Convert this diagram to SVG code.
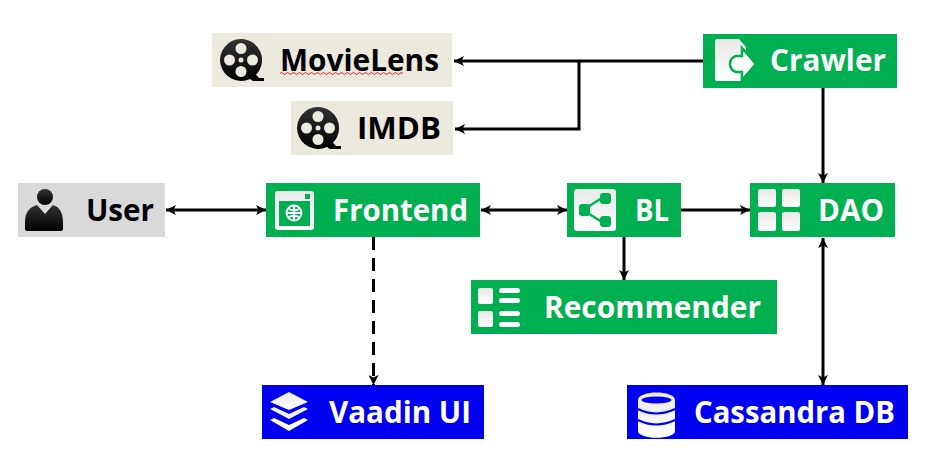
<svg xmlns="http://www.w3.org/2000/svg" width="938" height="476" viewBox="0 0 938 476">
<style>
.g{fill:#00b050}.b{fill:#0000f0}.t{font-family:"Open Sans","Noto Sans",sans-serif;font-weight:700;font-size:31px}
.w{fill:#fff}.k{fill:#000}
.i{fill:url(#wg)}.d{fill:url(#kg)}
.c{fill:none;stroke:#000;stroke-width:3}
</style>
<defs>
<linearGradient id="wg" x1="0" y1="0" x2="0" y2="1"><stop offset="0" stop-color="#e8e8e8"/><stop offset="1" stop-color="#fff"/></linearGradient>
<linearGradient id="kg" x1="0" y1="0" x2="0" y2="1"><stop offset="0" stop-color="#333"/><stop offset="1" stop-color="#000"/></linearGradient>
<marker id="a" viewBox="0 0 10 10" refX="10" refY="5" markerWidth="12" markerHeight="10" markerUnits="userSpaceOnUse" orient="auto-start-reverse"><path d="M0 0L10 5L0 10L2.500 5Z" fill="#000"/></marker>
<g id="reel"><path class="d" d="M0-21A21 21 0 0 1 15 14.700L18 18H23V21H12L9 19A21 21 0 1 1 0-21Z"/><g fill="#ece9df"><circle cx="0" cy="-11.500" r="5.500"/><circle cx="0" cy="11.500" r="5.500"/><circle cx="-11.500" cy="0" r="5.500"/><circle cx="11.500" cy="0" r="5.500"/><circle r="2.500"/></g></g>
</defs>
<g id="connectors">
<path class="c" marker-end="url(#a)" d="M703 61H454"/>
<path class="c" marker-end="url(#a)" d="M579 61V129H455"/>
<path class="c" marker-end="url(#a)" d="M823 88V183"/>
<path class="c" marker-start="url(#a)" marker-end="url(#a)" d="M166 210H266"/>
<path class="c" marker-start="url(#a)" marker-end="url(#a)" d="M481 210H567"/>
<path class="c" marker-end="url(#a)" d="M681 210H750"/>
<path class="c" marker-end="url(#a)" d="M624 237V280"/>
<path class="c" marker-start="url(#a)" marker-end="url(#a)" d="M823 238V385"/>
<path class="c" stroke-dasharray="13 8" marker-end="url(#a)" d="M373.500 237V385"/>
</g>
<g id="movielens"><rect x="212" y="33" width="240" height="54" fill="#ece9df"/><use href="#reel" x="241" y="60"/><text class="t k" x="280" y="71" textLength="159" lengthAdjust="spacingAndGlyphs">MovieLens</text><path d="M280 73.500q1.500-2 3 0t3 0 3 0 3 0 3 0 3 0 3 0 3 0 3 0 3 0 3 0 3 0 3 0 3 0 3 0 3 0 3 0 3 0 3 0 3 0 3 0 3 0 3 0 3 0 3 0 3 0 3 0 3 0 3 0 3 0 3 0 3 0 3 0 3 0 3 0 3 0 3 0 3 0 3 0 3 0 3 0" fill="none" stroke="#e02020" stroke-width="1"/></g>
<g id="imdb"><rect x="291" y="101" width="162" height="54" fill="#ece9df"/><use href="#reel" x="318" y="128"/><text class="t k" x="357" y="139" textLength="84" lengthAdjust="spacingAndGlyphs">IMDB</text></g>
<g id="crawler"><rect class="g" x="703" y="34" width="194" height="54"/><path class="i" d="M717 39H739L746 47V70L741 81H717Q715 81 715 79V41Q715 39 717 39Z"/><path class="w" d="M742 48L756 64L742 80V72H736Q730 70 730 64Q730 58 736 56H742Z" stroke="#00b050" stroke-width="2.500"/><text class="t w" x="770" y="71" textLength="116" lengthAdjust="spacingAndGlyphs">Crawler</text></g>
<g id="user"><rect x="18" y="183" width="147" height="54" fill="#d9d9d9"/><circle class="d" cx="45" cy="197" r="8"/><path class="d" d="M37 205L45 214L53 205C59 207 63 212 63 222V229Q63 231 60 231H28Q25 231 25 229V222C25 212 30 207 37 205Z"/><text class="t k" x="86" y="221" textLength="68" lengthAdjust="spacingAndGlyphs">User</text></g>
<g id="frontend"><rect class="g" x="266" y="183" width="214" height="54"/><rect class="i" x="275" y="191" width="39" height="39" rx="3"/><rect class="g" x="279" y="201" width="31" height="25"/><rect class="g" x="305" y="194" width="5" height="5"/><g fill="none" stroke="#fff" stroke-width="1.800"><circle cx="294" cy="213" r="7.500"/><path d="M294 205.500V220.500M286.500 213H301.500M288 208.500Q294 212 300 208.500M288 217.500Q294 214 300 217.500"/></g><text class="t w" x="333" y="221" textLength="135" lengthAdjust="spacingAndGlyphs">Frontend</text></g>
<g id="bl"><rect class="g" x="567" y="183" width="114" height="54"/><rect class="i" x="574" y="189" width="42" height="42" rx="3"/><path d="M583 210L605 196M583 210L605 224" stroke="#00b050" stroke-width="2.500"/><rect class="g" x="579" y="204" width="11" height="12" rx="3"/><rect class="g" x="600" y="193" width="11" height="11" rx="3"/><rect class="g" x="600" y="216" width="11" height="11" rx="3"/><text class="t w" x="635" y="221" textLength="34" lengthAdjust="spacingAndGlyphs">BL</text></g>
<g id="dao"><rect class="g" x="750" y="183" width="145" height="54"/><rect class="i" x="758" y="189" width="18" height="18" rx="2"/><rect class="i" x="782" y="189" width="18" height="18" rx="2"/><rect class="i" x="758" y="212" width="18" height="19" rx="2"/><rect class="i" x="782" y="212" width="18" height="19" rx="2"/><text class="t w" x="818" y="221" textLength="66" lengthAdjust="spacingAndGlyphs">DAO</text></g>
<g id="recommender"><rect class="g" x="471" y="280" width="306" height="54"/><rect class="i" x="478" y="288" width="15" height="16" rx="2"/><rect class="i" x="478" y="311" width="15" height="16" rx="2"/><g fill="#fff"><rect x="499" y="288" width="21" height="5" rx="2.500"/><rect x="499" y="298" width="21" height="5" rx="2.500"/><rect x="499" y="311" width="21" height="5" rx="2.500"/><rect x="499" y="322" width="21" height="5" rx="2.500"/></g><text class="t w" x="544" y="318" textLength="217" lengthAdjust="spacingAndGlyphs">Recommender</text></g>
<g id="vaadin"><rect class="b" x="262" y="385" width="222" height="54"/><path class="i" d="M289 392L308 402L289 410L270 402Z"/><path d="M270 409L274 407L289 414L304 407L308 409L289 419Z" fill="#f4f4f4"/><path d="M270 420L274 418L289 425L304 418L308 420L289 431Z" fill="#fff"/><text class="t w" x="329" y="423" textLength="142" lengthAdjust="spacingAndGlyphs">Vaadin UI</text></g>
<g id="cassandra"><rect class="b" x="627" y="385" width="281" height="54"/><path class="i" d="M638 400C638 390 675 390 675 400V431C675 440 638 440 638 431Z"/><ellipse class="b" cx="656.500" cy="400" rx="15" ry="3.500"/><path d="M638 409Q656 418 675 409M638 420Q656 429 675 420" fill="none" stroke="#0000f0" stroke-width="2"/><text class="t w" x="694" y="423" textLength="201" lengthAdjust="spacingAndGlyphs">Cassandra DB</text></g>
</svg>
